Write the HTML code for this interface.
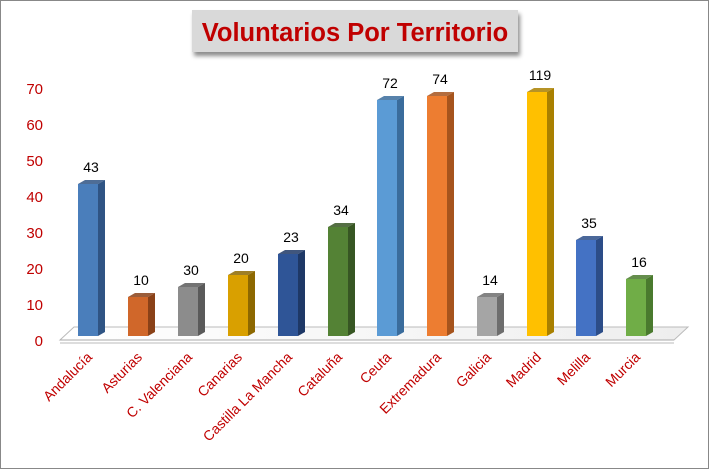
<!DOCTYPE html><html><head><style>body{margin:0;background:#fff}svg{display:block;font-family:"Liberation Sans",Calibri,sans-serif}</style></head><body>
<svg width="709" height="469" viewBox="0 0 709 469">
<defs><filter id="sh" x="-10%" y="-20%" width="130%" height="160%"><feDropShadow dx="2" dy="4" stdDeviation="2" flood-color="#000" flood-opacity="0.45"/></filter>
<linearGradient id="fl" x1="0" y1="0" x2="1" y2="0"><stop offset="0" stop-color="#fff"/><stop offset="1" stop-color="#eee"/></linearGradient></defs>
<rect x="0.5" y="0.5" width="708" height="468" fill="#fff" stroke="#888"/>
<rect x="192" y="10" width="326" height="42" fill="#d9d9d9" filter="url(#sh)"/>
<text x="355" y="41" text-anchor="middle" font-size="25.5" font-weight="bold" fill="#c00000">Voluntarios Por Territorio</text>
<g font-size="15" fill="#c00000" text-anchor="end">
<text x="43" y="94">70</text><text x="43" y="130">60</text><text x="43" y="166">50</text><text x="43" y="202">40</text><text x="43" y="238">30</text><text x="43" y="274">20</text><text x="43" y="310">10</text><text x="43" y="346">0</text></g>
<polygon points="60,340 74,327 688,327 674,340" fill="url(#fl)" stroke="#bbb"/>
<line x1="60" y1="340" x2="674" y2="340" stroke="#aaa"/>
<line x1="60" y1="343" x2="674" y2="343" stroke="#bbb"/>
<g id="bars"></g>
<g font-size="14" fill="#000" text-anchor="middle" id="vals"></g>
<g font-size="14" fill="#c00000" text-anchor="end" id="xl"></g>
<script>
var d=[["Andalucía",78,184,"43","#4a7ebb","#2f5484"],["Asturias",128,297,"10","#d0672a","#8a4118"],["C. Valenciana",178,287,"30","#8c8c8c","#5a5a5a"],["Canarias",228,275,"20","#d9a000","#8d6800"],["Castilla La Mancha",278,254,"23","#2f5597","#1e3866"],["Cataluña",328,227,"34","#548235","#375623"],["Ceuta",377,100,"72","#5b9bd5","#3a6c9c"],["Extremadura",427,96,"74","#ed7d31","#a6541d"],["Galicia",477,297,"14","#a5a5a5","#6d6d6d"],["Madrid",527,92,"119","#ffc000","#a98000"],["Melilla",576,240,"35","#4472c4","#2c4d88"],["Murcia",626,279,"16","#70ad47","#4a7a2e"]];
var ns="http://www.w3.org/2000/svg",b=document.getElementById("bars"),v=document.getElementById("vals"),x=document.getElementById("xl");
function el(t,a,p){var e=document.createElementNS(ns,t);for(var k in a)e.setAttribute(k,a[k]);p.appendChild(e);return e;}
d.forEach(function(r){var X=r[1],T=r[2],B=336,w=20,dx=7,dy=4;
el("polygon",{points:(X+w)+","+T+" "+(X+w+dx)+","+(T-dy)+" "+(X+w+dx)+","+(B-dy)+" "+(X+w)+","+B,fill:r[5]},b);
el("polygon",{points:X+","+T+" "+(X+dx)+","+(T-dy)+" "+(X+w+dx)+","+(T-dy)+" "+(X+w)+","+T,fill:r[5],opacity:0.85},b);
el("rect",{x:X,y:T,width:w,height:B-T,fill:r[4]},b);
var t=el("text",{x:X+13,y:T-12},v);t.textContent=r[3];
var cx=X+15,cy=358;var l=el("text",{x:cx,y:cy,transform:"rotate(-45 "+cx+" "+cy+")"},x);l.textContent=r[0];});
</script>
</svg></body></html>
